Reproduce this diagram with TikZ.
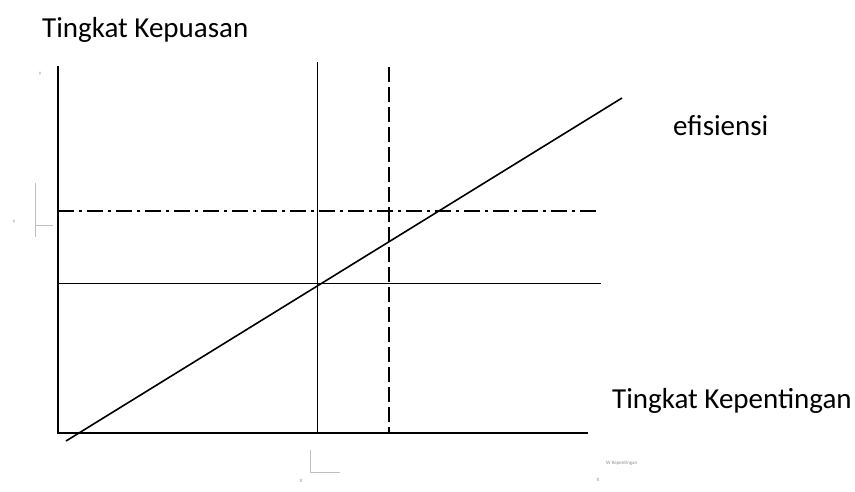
\documentclass[tikz,border=0pt]{standalone}
\usepackage{fontspec}
\setmainfont{Carlito}
\begin{document}
\begin{tikzpicture}[x=1pt,y=-1pt,
  axis/.style={line width=1.3pt,black},
  guide/.style={line width=1pt,black},
  faint/.style={line width=0.8pt,black!25},
  lbl/.style={font=\fontsize{29}{34}\selectfont,inner sep=0pt,anchor=base west},
  tiny/.style={font=\fontsize{5}{6}\selectfont,text=black!45,inner sep=0pt}]
\useasboundingbox (0,0) rectangle (855,491);
% axes
\coordinate (O) at (58,433);
\coordinate (Ytop) at (58,66);
\coordinate (Xend) at (588,433);
\draw[axis] (Ytop) -- (O) -- (Xend);
% solid guides
\coordinate (v1t) at (317,62);
\coordinate (v1b) at (317,433);
\draw[guide] (v1t) -- (v1b);
\coordinate (h1l) at (58,283);
\coordinate (h1r) at (601,283);
\draw[guide] (h1l) -- (h1r);
% dashed vertical
\coordinate (v2t) at (389,67);
\coordinate (v2b) at (389,433);
\draw[guide,line width=1.6pt,dash pattern=on 15pt off 5pt] (v2t) -- (v2b);
% dash-dot horizontal
\coordinate (h2l) at (58,211);
\coordinate (h2r) at (597,211);
\draw[guide,line width=1.6pt,dash pattern=on 16pt off 5pt on 3pt off 5pt] (h2l) -- (h2r);
% efficiency line
\coordinate (d1) at (66,441);
\coordinate (d2) at (622,98);
\draw[line width=1.6pt] (d1) -- (d2);
% labels
\node[lbl] (ty) at (42,37) {Tingkat Kepuasan};
\node[lbl] (ef) at (673,135) {efisiensi};
\node[lbl] (tx) at (612,408) {Tingkat Kepentingan};
% faint small marks
\coordinate (ya) at (35,183);
\coordinate (yb) at (35,237);
\coordinate (yc) at (35,225);
\coordinate (yd) at (53,225);
\draw[faint] (ya) -- (yb);
\draw[faint] (yc) -- (yd);
\node[tiny] (yl) at (14,222) {Y};
\node[tiny] (yt) at (40,74) {Y};
\coordinate (xa) at (310,450);
\coordinate (xb) at (310,472);
\coordinate (xc) at (340,472);
\draw[faint] (xa) -- (xb) -- (xc);
\node[tiny] (xl) at (301,481) {X};
\node[tiny,anchor=west] (xt) at (606,463) {W Kepentingan};
\node[tiny] (xl2) at (598,480) {X};
\end{tikzpicture}
\end{document}
